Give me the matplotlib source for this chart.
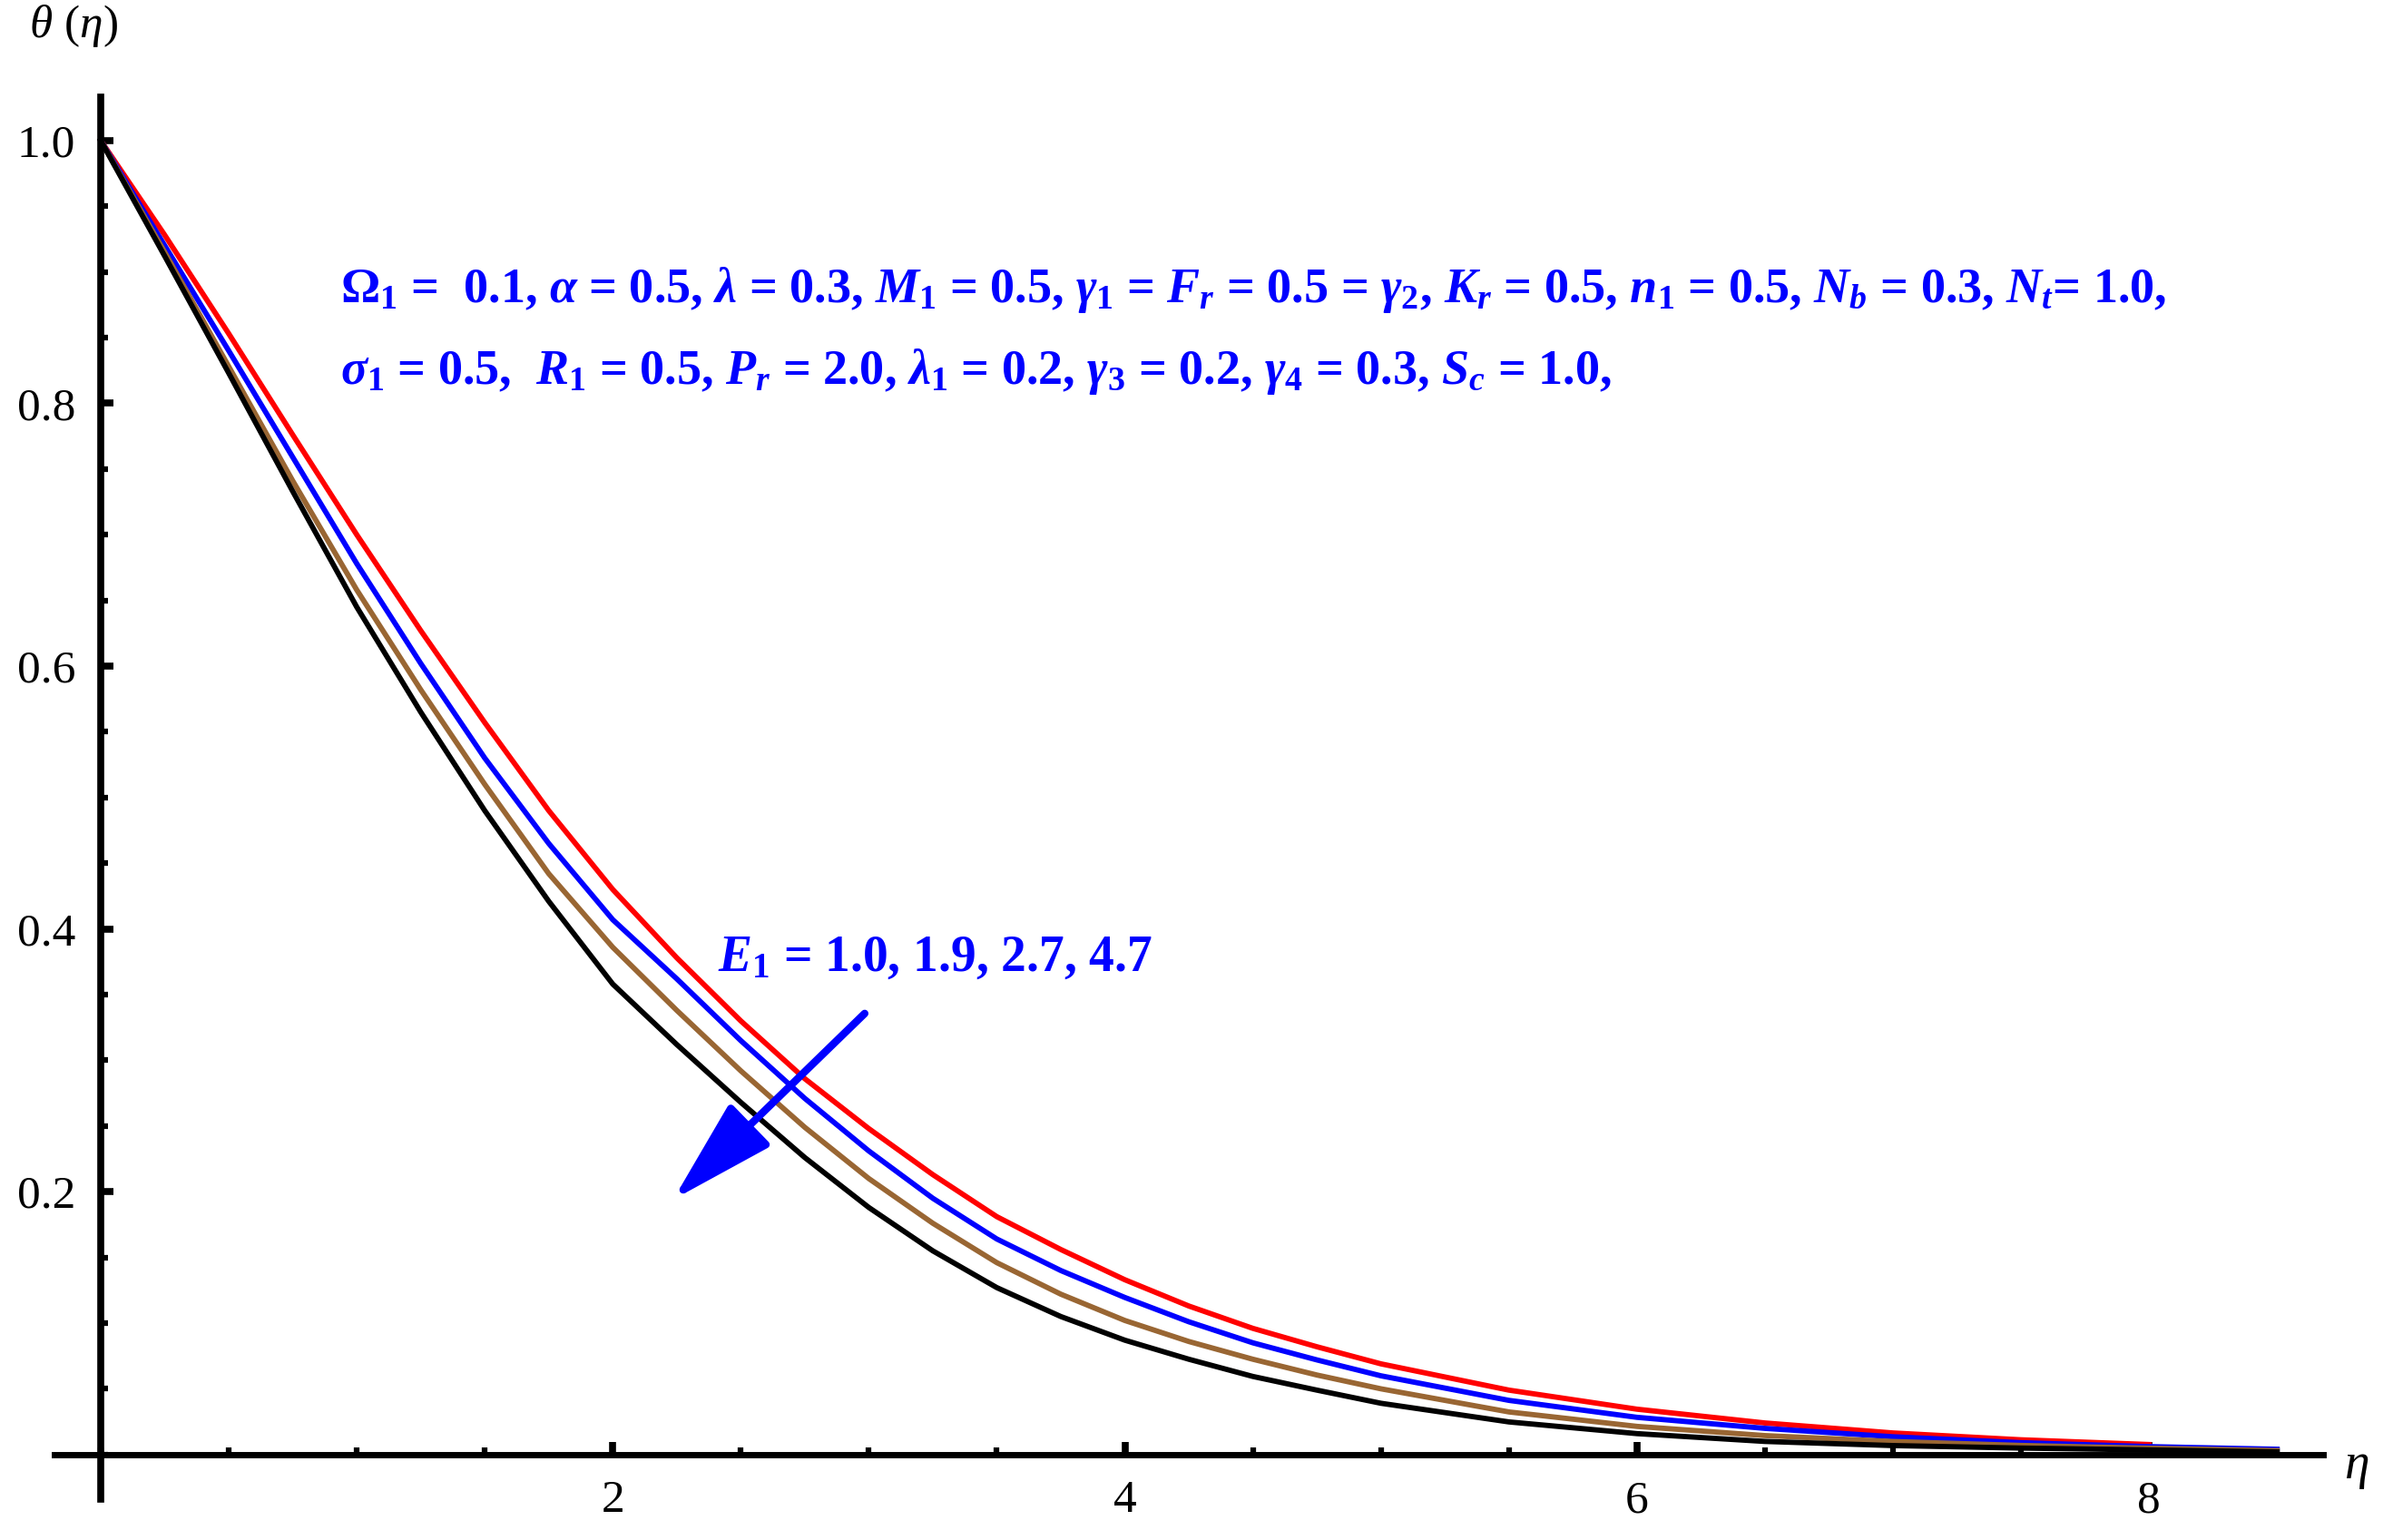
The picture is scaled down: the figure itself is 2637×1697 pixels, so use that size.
import matplotlib
matplotlib.use('Agg')
import matplotlib.pyplot as plt
from matplotlib.ticker import MultipleLocator, FixedLocator

# temperature profiles theta(eta) for E1 = 1.0, 1.9, 2.7, 4.7
eta = [0, 0.25, 0.5, 0.75, 1.0, 1.25, 1.5, 1.75, 2.0, 2.25, 2.5, 2.75, 3.0,
       3.25, 3.5, 3.75, 4.0, 4.25, 4.5, 4.75, 5.0, 5.5, 6.0, 6.5, 7.0, 7.5,
       8.0, 8.5]
eta_red = eta[:-1]   # red curve stops at eta = 8

theta_e1_10 = [1.0, 0.928, 0.853, 0.776, 0.700, 0.627, 0.557, 0.490, 0.430,
               0.378, 0.330, 0.286, 0.248, 0.213, 0.181, 0.156, 0.133, 0.113,
               0.096, 0.082, 0.069, 0.049, 0.0345, 0.024, 0.0164, 0.0112,
               0.0076]
theta_e1_19 = [1.0, 0.920, 0.840, 0.759, 0.678, 0.602, 0.530, 0.465, 0.407,
               0.362, 0.315, 0.271, 0.231, 0.195, 0.164, 0.140, 0.1195, 0.101,
               0.085, 0.072, 0.0599, 0.0412, 0.0283, 0.0199, 0.0135, 0.0090,
               0.006, 0.004]
theta_e1_27 = [1.0, 0.915, 0.828, 0.741, 0.658, 0.582, 0.510, 0.442, 0.386,
               0.338, 0.292, 0.249, 0.210, 0.176, 0.146, 0.122, 0.102, 0.086,
               0.0725, 0.0605, 0.050, 0.0324, 0.0214, 0.0144, 0.0099, 0.0069,
               0.0048, 0.003]
theta_e1_47 = [1.0, 0.912, 0.823, 0.733, 0.645, 0.565, 0.490, 0.421, 0.358,
               0.312, 0.268, 0.226, 0.188, 0.155, 0.127, 0.105, 0.087, 0.0725,
               0.0594, 0.049, 0.039, 0.0248, 0.0159, 0.00995, 0.0068, 0.0049,
               0.0035, 0.002]

x_major = [2, 4, 6, 8]
y_major = [0.2, 0.4, 0.6, 0.8, 1.0]

line1 = (r"$\Omega_1$ =  0.1, $\alpha$ = 0.5, $\lambda$ = 0.3, $M_1$ = 0.5, "
         r"$\gamma_1$ = $F_r$ = 0.5 = $\gamma_2$, $K_r$ = 0.5, $n_1$ = 0.5, "
         r"$N_b$ = 0.3, $N_t$= 1.0,")
line2 = (r"$\sigma_1$ = 0.5,  $R_1$ = 0.5, $P_r$ = 2.0, $\lambda_1$ = 0.2, "
         r"$\gamma_3$ = 0.2, $\gamma_4$ = 0.3, $S_c$ = 1.0,")
e1_label = r"$E_1$ = 1.0, 1.9, 2.7, 4.7"

plt.rcParams['font.family'] = ['Liberation Serif', 'DejaVu Serif']
plt.rcParams['mathtext.fontset'] = 'custom'
plt.rcParams['mathtext.rm'] = 'Liberation Serif:bold'
plt.rcParams['mathtext.it'] = 'Liberation Serif:bold:italic'
plt.rcParams['mathtext.bf'] = 'Liberation Serif:bold'
# plain (non-bold) faces for the axis labels
plt.rcParams['mathtext.sf'] = 'Liberation Serif:italic'
plt.rcParams['mathtext.tt'] = 'Liberation Serif'

fig = plt.figure(figsize=(26.37, 16.97), dpi=100)
ax = fig.add_axes([0.0228, 0.0265, 0.948, 0.9105])

ax.plot(eta_red, theta_e1_10, color='#ff0000', lw=4.2)
ax.plot(eta, theta_e1_19, color='#0000ff', lw=4.2)
ax.plot(eta, theta_e1_27, color='#996633', lw=4.2)
ax.plot(eta, theta_e1_47, color='black', lw=4.2)

ax.set_xlim(-0.18, 8.68)
ax.set_ylim(-0.034, 1.033)

for side in ['top', 'right']:
    ax.spines[side].set_visible(False)
ax.spines['left'].set_position(('data', 0))
ax.spines['bottom'].set_position(('data', 0))
ax.spines['left'].set_linewidth(5.5)
ax.spines['bottom'].set_linewidth(5.0)

ax.xaxis.set_major_locator(FixedLocator(x_major))
ax.yaxis.set_major_locator(FixedLocator(y_major))
ax.xaxis.set_minor_locator(MultipleLocator(0.5))
ax.yaxis.set_minor_locator(MultipleLocator(0.05))
ax.set_xticklabels([str(v) for v in x_major])
ax.set_yticklabels(['%.1f' % v for v in y_major])
ax.tick_params(which='major', direction='in', length=10, width=5.5,
               labelsize=37)
ax.tick_params(which='minor', direction='in', length=6, width=4.5)
ax.tick_params(axis='y', which='major', pad=20)
ax.tick_params(axis='x', which='major', pad=20)

fig.text(0.012, 0.983, r'$\mathsf{\theta}\ \mathtt{(}\mathsf{\eta}\mathtt{)}$',
         fontsize=37, va='center')
ax.text(8.76, -0.01, r'$\mathsf{\eta}$', fontsize=40, va='center',
        ha='left', clip_on=False)

ax.text(0.935, 0.877, line1, color='#0000ff', fontsize=39,
        fontweight='bold', va='baseline')
ax.text(0.935, 0.815, line2, color='#0000ff', fontsize=39,
        fontweight='bold', va='baseline')
ax.text(2.41, 0.368, e1_label, color='#0000ff', fontsize=40,
        fontweight='bold', va='baseline')

ax.annotate('', xy=(2.236, 0.194), xytext=(2.984, 0.3356),
            arrowprops=dict(arrowstyle='-|>,head_length=0.72,head_width=0.2',
                            mutation_scale=100, color='#0000ff', lw=6,
                            shrinkA=0, shrinkB=0))

fig.savefig('out.png', dpi=100)
